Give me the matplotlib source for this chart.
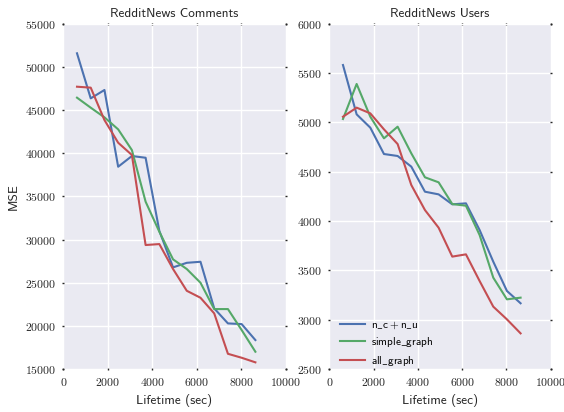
import matplotlib
matplotlib.use("Agg")
import matplotlib.pyplot as plt
from matplotlib.ticker import FuncFormatter, MultipleLocator

plt.rcParams["mathtext.fontset"] = "cm"

lifetime = [617, 1234, 1851, 2468, 3085, 3702, 4319, 4936, 5553, 6170, 6787, 7404, 8021, 8638]
series_names = [r"$\mathsf{n\_c+n\_u}$", r"$\mathsf{simple\_graph}$", r"$\mathsf{all\_graph}$"]
colors = ["#4C72B0", "#55A868", "#C44E52"]

comments_ncnu = [51570, 46350, 47320, 38430, 39670, 39470, 31000, 26770, 27300, 27420, 22020, 20280, 20200, 18350]
comments_simple = [46430, 45270, 44150, 42760, 40360, 34380, 30900, 27700, 26580, 24990, 21940, 21940, 19510, 17000]
comments_all = [47700, 47590, 43840, 41210, 39790, 29360, 29470, 26580, 24060, 23250, 21440, 16760, 16300, 15770]

users_ncnu = [5581, 5081, 4946, 4679, 4659, 4551, 4297, 4270, 4169, 4179, 3909, 3588, 3291, 3166]
users_simple = [5034, 5389, 5057, 4838, 4956, 4686, 4443, 4392, 4172, 4155, 3858, 3426, 3206, 3223]
users_all = [5057, 5149, 5091, 4929, 4780, 4365, 4111, 3932, 3639, 3662, 3392, 3132, 3003, 2861]

fig = plt.figure(figsize=(5.64, 4.12), dpi=100)
ax1 = fig.add_axes([0.1122, 0.1044, 0.3943, 0.8381])
ax2 = fig.add_axes([0.5839, 0.1044, 0.3926, 0.8381])

panels = [
    (ax1, "RedditNews Comments", [comments_ncnu, comments_simple, comments_all], (15000, 55000), 5000),
    (ax2, "RedditNews Users", [users_ncnu, users_simple, users_all], (2500, 6000), 500),
]

sans = "cmss10"
num_fmt = FuncFormatter(lambda v, pos: f"${v:.0f}$")

for ax, title, data, ylim, ystep in panels:
    ax.set_facecolor("#EAEAF2")
    for ys, name, c in zip(data, series_names, colors):
        ax.plot(lifetime, ys, color=c, linewidth=1.5, label=name)
    ax.set_xlim(0, 10000)
    ax.set_ylim(*ylim)
    ax.xaxis.set_major_locator(MultipleLocator(2000))
    ax.yaxis.set_major_locator(MultipleLocator(ystep))
    ax.xaxis.set_major_formatter(num_fmt)
    ax.yaxis.set_major_formatter(num_fmt)
    ax.grid(color="white", linewidth=1.0)
    ax.set_axisbelow(True)
    for s in ax.spines.values():
        s.set_visible(False)
    ax.tick_params(axis="both", which="major", direction="inout", length=2, width=1,
                   color="#262626", labelsize=8.5, labelcolor="#262626",
                   top=True, right=True, pad=4)
    ax.set_title(title, fontsize=9.5, family=sans, color="#262626", pad=5)
    ax.set_xlabel("Lifetime (sec)", fontsize=9.5, family=sans, color="#262626")

ax1.set_ylabel("MSE", fontsize=9.5, family=sans, color="#262626")

leg = ax2.legend(loc="lower left", bbox_to_anchor=(0.0, -0.028), frameon=False,
                 handlelength=2.2, handletextpad=0.55,
                 prop={"family": sans, "size": 8}, labelspacing=0.4,
                 borderaxespad=0.6)

fig.savefig("out.png", dpi=100)
